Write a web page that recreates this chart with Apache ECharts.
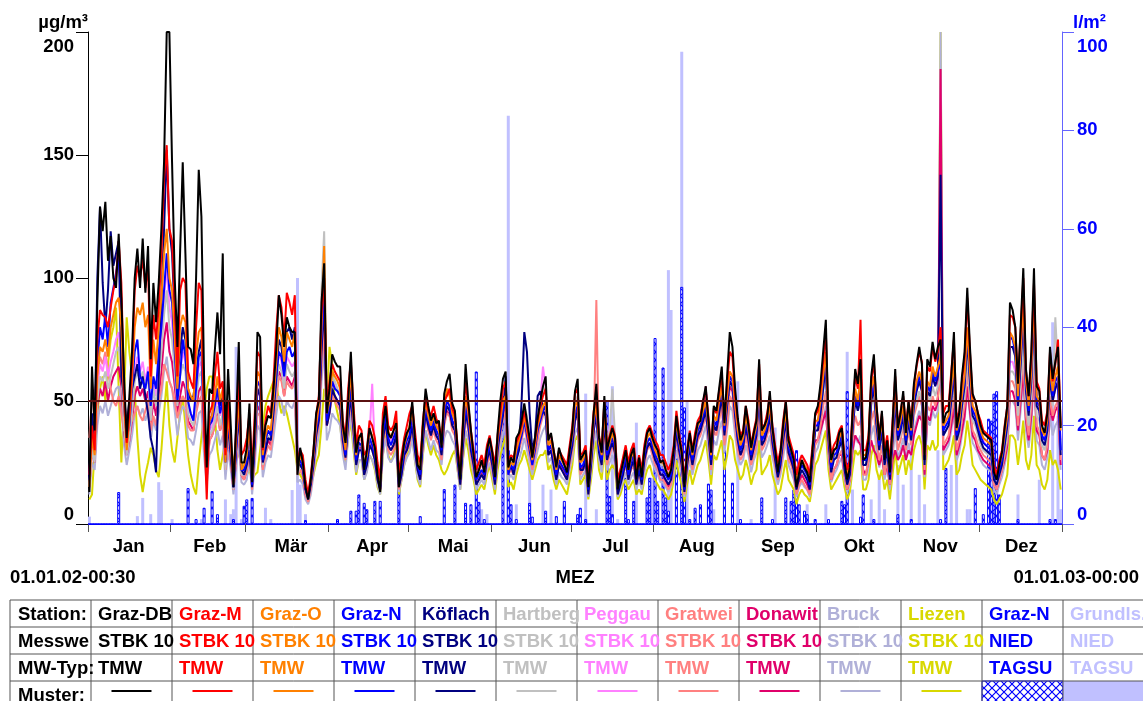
<!DOCTYPE html>
<html><head><meta charset="utf-8">
<script src="https://cdn.jsdelivr.net/npm/echarts@6/dist/echarts.min.js"></script>
<style>html,body{margin:0;padding:0;background:#fff}#c{width:1143px;height:701px}</style>
</head><body><div id="c"></div>
<script>
// ---------- DATA ----------
const monthNames = ['Jan','Feb','Mär','Apr','Mai','Jun','Jul','Aug','Sep','Okt','Nov','Dez'];
const monthStartDays = [0,31,59,90,120,151,181,212,243,273,304,334];
const leftAxisMax = 200, leftAxisStep = 50;
const rightAxisMax = 100, rightAxisStep = 20;
const limitValue = 50;

const grazDB = [
13,64,38,90,129,119,131,107,117,100,96,118,92,60,35,52,70,100,112,96,116,94,113,67,98,82,98,120,147,200,200,
147,100,72,110,147,110,72,71,65,100,144,125,60,23,55,53,70,86,69,110,31,63,40,15,40,74,25,25,
31,49,17,40,78,76,31,40,44,43,55,70,93,85,72,84,80,78,78,20,31,25,15,10,18,30,45,50,90,106,45,
55,69,66,64,64,40,33,50,70,45,29,35,37,22,30,39,35,31,20,13,40,48,37,35,38,41,15,25,33,37,
39,50,35,24,22,40,55,48,42,45,41,42,31,53,58,61,49,46,30,18,40,65,50,38,28,19,22,26,21,30,35,
29,19,37,50,59,62,23,27,25,35,37,42,49,42,35,27,35,43,50,56,60,34,37,30,23,31,27,24,21,30,
38,54,59,26,28,30,15,30,45,57,35,29,52,30,35,39,35,14,20,25,30,22,28,31,18,27,19,30,37,39,35,
32,30,25,26,22,19,22,30,44,35,29,15,29,37,29,35,41,42,50,56,42,29,48,46,55,64,41,60,78,72,55,
43,34,37,48,40,31,37,42,67,38,40,43,54,39,30,21,29,40,50,34,30,26,15,21,26,23,21,17,30,45,
48,57,70,83,40,26,30,31,37,39,25,18,23,45,63,57,67,26,27,34,60,69,48,34,46,26,34,21,40,63,39,
45,54,37,50,39,57,65,72,65,26,67,64,74,67,72,75,41,45,46,60,78,39,45,60,70,96,72,53,50,45,
40,37,36,35,34,21,18,24,29,39,48,90,87,80,57,80,104,63,52,70,104,56,54,40,37,45,72,59,66,72,39];

const grazM = [
20,40,30,75,87,85,84,80,88,95,100,115,98,55,33,45,65,95,105,100,108,96,105,60,85,75,88,110,140,154,120,
115,90,60,95,100,98,62,58,55,80,98,95,40,10,45,48,60,70,55,58,28,50,35,18,38,60,28,30,
35,45,22,45,70,68,30,42,48,45,58,78,93,88,75,94,90,85,93,25,30,28,18,12,20,30,44,52,85,100,48,
58,65,62,60,58,42,35,55,66,48,32,40,38,28,30,42,40,35,25,18,45,52,40,38,40,46,20,28,35,40,
45,48,38,28,25,42,52,46,44,48,43,40,35,50,52,55,47,44,32,22,42,58,48,38,30,22,25,28,24,32,36,
30,24,36,45,55,58,26,28,27,33,36,40,46,40,33,28,34,42,48,52,55,36,36,30,24,30,28,26,24,32,
40,53,55,28,29,32,18,32,46,52,36,30,50,32,36,40,36,18,22,27,32,25,30,33,22,28,22,32,38,40,37,
34,32,28,28,25,22,25,32,46,37,30,18,30,38,30,37,42,44,50,54,44,30,47,45,54,60,42,57,70,68,52,
42,36,38,48,42,32,38,43,65,40,40,45,52,40,32,25,30,42,50,36,32,28,20,25,28,26,24,20,32,44,
46,55,66,78,42,28,32,34,38,40,28,22,26,46,60,55,83,30,30,36,58,66,48,36,45,30,36,25,42,60,40,
46,52,40,50,42,56,64,70,66,30,64,62,72,66,70,80,45,48,48,62,75,42,46,58,68,92,70,52,50,45,
42,38,37,36,35,24,20,26,30,40,48,85,84,80,58,78,100,62,52,68,98,58,55,42,40,46,70,58,65,75,40];

const grazO = [
15,35,28,60,72,70,75,68,80,85,90,92,80,50,30,42,58,80,88,85,90,80,85,55,75,65,80,92,110,120,100,
95,75,55,80,85,82,55,52,50,68,78,80,42,22,42,44,52,60,50,55,25,45,32,16,34,52,22,24,
28,40,18,38,62,60,28,36,40,38,50,65,80,76,66,78,75,72,78,22,28,25,15,12,18,28,40,48,80,113,45,
50,62,60,58,55,38,30,48,62,42,28,36,35,24,28,38,36,30,22,16,40,50,38,35,38,42,18,25,32,36,
40,46,35,26,22,40,50,44,40,44,40,38,32,48,55,52,45,42,30,20,38,52,45,35,28,20,22,25,22,30,34,
28,20,34,42,50,52,22,25,24,30,34,38,44,38,32,26,32,40,44,48,50,32,34,28,22,28,26,24,22,30,
36,48,50,25,26,30,16,28,42,48,33,28,46,30,33,37,33,15,20,25,30,22,27,30,20,26,20,30,35,37,34,
30,28,25,25,22,20,22,30,42,34,28,16,28,35,28,34,40,42,46,50,40,28,44,42,50,56,40,52,62,60,48,
38,32,35,44,38,30,35,40,58,36,38,42,48,37,30,23,28,38,46,33,30,26,18,23,26,24,22,18,30,42,
42,50,60,70,38,25,30,31,35,38,26,20,24,42,55,50,60,28,28,34,55,60,44,34,42,28,34,22,38,55,38,
42,48,36,46,38,52,58,62,58,28,58,56,64,60,64,68,40,42,44,55,66,38,42,52,60,80,62,48,46,42,
38,35,34,33,32,22,20,24,28,36,44,78,76,72,52,70,90,58,48,62,92,52,50,38,36,42,64,54,60,64,38];

const grazN = [
18,38,30,65,80,75,85,72,90,96,102,110,90,48,35,40,55,70,75,60,58,55,62,48,60,55,70,80,95,110,95,
90,70,50,60,75,68,50,45,42,55,68,70,38,22,40,42,48,55,45,50,25,42,30,15,30,48,22,22,
26,38,16,35,58,56,26,34,38,36,48,60,70,68,60,70,72,68,70,25,26,23,14,12,17,26,38,44,75,95,42,
48,58,55,54,52,36,28,44,56,40,26,33,32,22,26,35,32,28,20,15,36,45,35,32,35,38,16,22,30,34,
36,44,32,24,20,36,48,42,38,42,38,36,30,45,50,48,42,40,28,18,35,48,42,32,26,18,20,22,20,28,32,
26,18,32,40,46,50,20,24,22,28,32,36,42,36,30,24,30,38,42,46,48,30,32,26,20,26,24,22,20,28,
34,45,48,23,24,28,14,26,40,46,31,26,44,28,32,35,31,14,18,22,28,20,25,28,18,24,18,28,33,35,32,
28,26,22,22,20,18,20,28,40,32,26,14,26,33,26,32,38,40,44,48,38,26,42,40,48,54,38,50,60,58,46,
36,30,33,42,36,28,33,38,56,34,36,40,46,35,28,21,26,36,44,31,28,24,16,21,24,22,20,16,28,40,
40,48,58,68,36,23,28,29,33,36,24,18,22,40,52,48,55,26,26,32,52,58,42,32,40,26,32,20,36,52,36,
40,46,34,44,36,50,56,60,56,26,56,54,62,58,62,66,38,40,42,52,64,36,40,50,58,78,60,46,44,40,
36,33,32,31,30,20,18,22,26,34,42,76,75,70,50,68,88,56,46,60,90,50,48,36,34,40,62,52,58,60,30];

const koeflach = [
20,45,35,100,129,98,80,95,119,105,110,115,60,52,40,50,55,60,65,55,60,52,45,35,30,21,60,90,120,152,120,
110,85,60,70,80,75,55,50,52,60,70,75,45,20,42,44,50,55,48,52,26,40,28,15,30,45,22,20,
24,30,15,32,55,52,25,30,35,34,45,58,75,72,62,78,80,75,80,25,24,22,14,10,16,24,36,42,70,90,40,
45,55,52,50,48,34,27,42,52,38,24,30,30,20,24,32,30,26,18,14,34,42,32,30,32,36,15,20,28,30,
34,40,30,22,18,34,45,40,36,40,36,34,28,42,48,46,40,38,26,16,32,45,40,30,24,16,18,20,18,26,30,
24,16,30,38,44,60,22,24,20,26,30,50,78,70,45,30,35,52,54,46,44,28,30,24,18,24,22,20,18,26,
32,42,46,22,22,26,12,24,38,44,29,24,42,26,30,33,29,12,16,20,26,18,23,26,16,22,16,26,31,33,30,
26,24,20,20,18,16,18,26,38,30,24,13,24,31,24,30,36,38,42,46,36,24,40,38,45,52,36,48,58,56,44,
34,28,31,40,34,26,31,36,54,32,34,38,44,33,26,19,24,34,42,29,26,22,14,19,22,20,18,14,26,38,
38,45,55,65,34,21,26,27,31,34,22,16,20,38,50,46,52,24,24,30,50,55,40,30,38,24,30,18,34,50,34,
38,44,32,42,34,48,54,58,54,24,54,52,60,56,60,142,36,38,40,50,62,34,38,48,56,75,58,44,42,38,
34,31,30,29,28,18,16,20,24,32,40,72,72,68,48,65,85,54,44,58,86,48,46,34,32,38,60,50,55,58,28];

const hartberg = [
15,30,25,50,60,58,62,55,60,65,70,72,62,40,28,35,45,58,62,58,62,55,60,42,55,48,58,70,85,95,80,
75,62,48,60,65,62,45,42,40,50,60,62,35,20,36,38,42,48,40,45,22,38,28,14,28,42,20,20,
24,34,16,32,50,50,24,32,36,34,44,55,65,62,55,65,62,60,62,20,24,22,14,10,16,26,40,50,95,119,50,
52,60,58,55,52,36,28,44,58,40,26,32,32,22,26,34,32,28,20,15,36,44,34,32,34,38,16,22,30,34,
36,44,32,24,20,36,48,42,38,42,38,36,30,45,48,46,42,40,28,18,35,48,42,32,26,18,20,22,20,28,32,
26,18,32,40,46,50,22,26,24,30,34,40,48,44,34,26,32,40,46,56,55,34,34,28,22,28,26,24,22,30,
38,50,52,26,28,30,18,30,42,50,35,30,50,34,38,55,36,18,22,26,30,22,28,30,20,26,20,30,36,38,35,
30,28,24,24,22,20,22,28,40,34,28,16,26,34,26,32,38,40,44,48,38,26,42,40,48,54,38,48,58,56,46,
36,30,33,42,36,28,33,38,52,34,36,40,44,35,28,22,26,36,42,32,28,24,16,22,24,22,20,16,28,38,
40,46,54,60,34,22,27,28,32,34,22,17,21,38,50,46,50,24,24,30,48,52,38,30,36,24,30,20,34,48,34,
36,42,32,40,34,46,50,54,50,24,52,50,56,52,56,60,36,38,40,48,58,34,36,46,52,68,54,42,40,36,
32,30,29,28,27,18,16,20,24,30,36,62,62,60,44,58,72,48,40,52,74,44,42,32,30,36,58,48,84,62,30];

const peggau = [
15,32,26,55,65,62,68,60,66,70,75,78,66,42,30,38,50,62,68,62,66,58,64,45,58,52,62,75,92,105,88,
82,66,50,62,70,66,48,45,42,54,64,66,38,20,38,40,45,52,44,48,24,40,30,15,30,44,20,22,
26,36,17,34,54,52,26,34,38,36,46,58,70,66,58,68,66,64,66,22,26,24,14,11,17,27,40,46,78,98,44,
50,58,56,54,52,36,30,46,58,42,28,34,34,24,28,36,57,30,22,16,38,46,36,34,36,40,18,24,32,36,
38,46,34,26,22,38,50,44,40,44,40,38,32,47,50,48,44,42,30,20,36,50,44,34,27,20,22,24,22,30,34,
28,20,34,42,48,52,24,27,25,31,35,40,46,40,33,27,33,41,50,64,55,33,35,29,23,29,27,25,23,31,
37,48,50,27,28,31,18,31,44,50,35,30,48,32,40,38,34,17,22,26,31,23,28,31,21,27,21,31,36,40,36,
31,29,26,26,23,21,23,31,42,35,29,17,28,35,28,34,40,42,50,55,42,28,44,42,50,56,40,50,60,58,48,
38,32,35,44,38,30,35,40,56,36,38,42,46,37,30,24,28,38,44,34,30,26,20,26,28,26,24,22,30,40,
42,48,56,64,38,26,30,30,34,36,26,20,24,40,52,48,50,28,28,34,52,56,40,34,40,28,34,24,38,52,38,
40,46,36,44,38,50,54,58,54,28,56,54,60,56,60,64,40,42,44,52,62,38,40,48,56,70,58,46,44,40,
36,34,32,31,30,22,20,24,28,34,40,66,66,62,48,62,78,52,44,56,80,48,46,36,34,40,60,50,55,56,34];

const gratwein = [
35,50,54,60,68,65,70,62,55,50,48,52,45,38,37,40,42,45,48,44,42,46,50,38,44,40,50,55,65,62,58,
55,50,43,48,52,50,40,38,38,45,50,52,34,20,34,36,40,44,38,42,22,36,26,14,26,38,20,18,
22,30,14,28,45,44,22,28,32,30,40,50,60,58,52,58,56,55,58,20,22,20,12,9,14,22,34,40,62,80,40,
45,52,50,48,46,32,26,40,50,36,24,30,30,20,24,32,30,26,18,14,32,40,30,28,30,34,14,20,26,30,
32,40,30,22,18,32,44,38,34,38,34,32,26,40,45,44,38,36,24,16,30,44,38,28,22,16,18,20,18,24,28,
22,16,28,36,42,46,20,22,20,26,30,34,40,34,28,22,28,34,40,44,46,28,30,24,18,24,22,20,18,24,
30,42,44,20,22,24,12,24,36,91,30,24,40,24,28,32,28,12,16,20,24,18,22,24,16,20,16,24,30,32,28,
24,22,18,18,16,14,16,24,36,28,22,12,22,30,22,28,34,36,40,44,34,22,38,36,42,48,32,40,52,50,40,
30,26,28,36,30,24,28,32,48,30,32,36,40,30,24,18,22,30,38,26,24,20,12,16,18,16,14,12,22,32,
34,40,48,54,30,18,22,24,28,30,20,14,18,34,44,40,42,20,20,26,42,46,34,26,32,20,26,16,30,44,30,
34,40,30,38,32,44,48,52,48,22,48,46,52,48,52,58,32,34,36,44,52,30,34,42,48,62,50,38,36,32,
30,28,27,26,25,16,14,18,22,28,34,58,58,55,40,54,68,44,36,48,70,40,38,28,26,32,52,44,48,50,26];

const donawitz = [
15,30,25,48,55,52,58,50,56,60,62,64,56,38,28,34,42,52,56,52,55,50,54,40,50,44,52,62,75,82,70,
66,56,44,52,58,55,42,40,38,46,54,56,34,18,34,36,40,46,38,42,22,36,26,14,26,40,20,18,
22,32,15,30,48,46,23,30,34,32,42,52,62,60,52,60,58,56,60,20,22,20,12,10,15,24,36,42,70,88,40,
46,54,52,50,48,33,27,42,54,38,25,31,31,21,25,33,31,27,19,14,34,42,32,30,32,36,15,21,28,32,
34,42,31,23,19,34,46,40,36,40,36,34,28,42,46,44,40,38,26,17,32,46,40,30,24,17,19,21,19,26,30,
24,17,30,38,44,48,21,23,21,27,31,36,42,36,30,23,29,36,42,46,48,30,32,25,19,25,23,21,19,26,
32,44,46,22,23,26,13,25,38,46,31,25,42,26,30,33,30,13,17,21,25,19,23,25,17,22,17,25,31,33,30,
26,24,20,20,17,15,17,25,36,30,24,13,24,31,24,29,35,37,42,56,36,24,40,38,44,50,34,44,56,54,42,
32,28,30,38,32,25,30,34,50,32,34,38,42,32,25,19,23,32,40,28,25,21,13,17,20,18,16,13,24,34,
34,38,42,46,30,18,22,24,28,28,20,14,18,30,36,34,32,22,20,26,34,30,28,24,28,20,24,16,26,30,26,
28,32,26,30,28,36,40,44,42,20,44,42,48,46,50,185,30,32,34,40,48,28,32,38,44,56,46,36,34,30,
28,26,25,24,23,16,14,18,22,26,32,54,54,50,38,50,62,42,34,44,64,38,36,28,26,30,48,42,46,48,24];

const bruck = [
12,25,22,40,48,45,50,44,48,52,55,56,48,32,24,30,36,45,48,44,47,42,46,34,42,38,45,52,62,68,58,
55,46,36,44,48,46,35,34,32,38,45,46,28,16,28,30,34,38,32,36,18,30,22,12,22,34,17,16,
18,26,12,24,40,38,19,25,28,27,35,44,52,50,44,50,48,47,50,17,18,16,10,8,12,20,30,36,58,72,34,
38,45,43,42,40,28,22,35,45,32,21,26,26,18,21,28,26,23,16,12,28,35,27,25,27,30,13,18,24,27,
29,35,26,19,16,29,38,34,30,34,30,29,24,35,38,37,34,32,22,14,27,38,34,26,20,14,16,18,16,22,25,
20,14,25,32,37,40,18,20,18,23,26,30,35,30,25,20,25,30,35,38,40,25,27,21,16,21,19,18,16,22,
27,37,39,18,20,22,11,21,32,38,26,21,35,22,25,28,25,11,14,18,21,16,19,21,14,18,14,21,26,28,25,
22,20,17,17,15,13,15,21,30,25,20,11,20,26,20,25,30,32,36,40,30,20,34,32,38,42,29,38,48,46,36,
28,24,26,32,28,21,26,29,42,27,29,32,36,27,22,16,20,27,34,24,21,18,11,15,17,15,14,11,20,29,
31,36,42,48,27,17,20,22,25,27,18,13,16,28,36,33,36,18,18,23,36,40,30,23,28,18,23,14,27,38,27,
30,35,26,33,28,38,42,46,42,19,42,40,46,43,46,200,28,30,32,38,46,26,29,36,42,55,44,33,31,29,
26,24,23,22,21,14,12,16,19,24,30,50,50,48,34,46,58,38,31,40,60,34,32,24,22,27,44,36,40,42,22];

const liezen = [
10,12,30,45,55,60,50,65,75,80,88,55,25,50,84,70,60,55,35,20,13,20,25,31,28,22,19,30,45,58,40,
30,25,35,45,52,40,28,20,15,12,25,35,45,55,60,60,45,30,22,28,35,38,32,25,30,28,25,22,
20,22,18,20,21,30,40,48,52,55,58,58,50,45,48,45,40,35,30,22,20,18,15,12,15,20,25,28,40,55,50,
72,65,50,45,40,30,25,35,42,30,20,26,26,18,22,28,26,22,15,12,28,36,28,25,28,32,12,18,24,28,
30,36,26,18,15,28,38,32,28,32,28,26,22,20,22,25,28,30,22,14,26,35,30,22,18,12,14,16,14,20,24,
18,12,22,28,32,36,15,17,14,20,24,26,30,26,22,18,22,26,28,28,30,22,24,18,14,18,16,14,12,18,
24,34,36,16,18,20,10,18,28,34,22,18,30,18,22,24,22,10,12,16,18,14,16,18,12,14,12,18,22,24,20,
18,16,14,14,12,10,12,18,26,20,16,9,16,22,16,20,24,26,30,34,26,16,28,26,30,34,22,28,36,34,26,
22,18,20,26,22,16,20,22,34,20,22,24,28,20,16,12,14,20,26,18,16,14,8,12,14,12,11,9,16,24,
26,30,34,38,22,14,16,18,20,22,15,10,13,22,30,28,30,14,14,18,28,32,22,18,22,14,18,10,20,30,20,
24,28,20,26,22,30,34,36,32,14,32,30,34,30,32,200,22,24,26,30,36,20,22,28,32,42,34,24,22,20,
18,17,16,15,14,10,8,10,12,16,20,36,36,34,24,32,42,26,22,28,44,24,22,16,14,18,30,24,26,22,14];

// precipitation (l/m²), [dayIndex, value] — all other days 0
const niedGrazN = [[11,6.5],[37,7.3],[40,1],[43,3.3],[46,6.7],[48,2],[54,1],[58,3.7],[59,5],[61,5.3],[81,0.8],
[93,1],[98,2.7],[100,2.7],[101,6],[103,4.3],[104,3],[107,4.7],[109,4.7],[116,10],[124,1.6],[133,7.1],[137,8],
[141,4.3],[143,4],[145,31],[146,4.5],[148,1],[155,26],[157,15],[158,4],[160,1],[165,4.3],[166,1.5],[171,2.7],
[175,1.6],[178,4.7],[183,2],[184,3.3],[186,1],[194,25],[195,5.7],[196,2],[201,9.4],[202,1],[204,4.7],[209,5.4],
[210,9.4],[212,37.8],[213,4.7],[215,31.8],[216,5.4],[217,2.7],[220,17.6],[222,48.2],[223,23.7],[225,1],[227,3.3],
[229,4],[232,8.2],[233,7],[238,15],[241,8.4],[244,1],[252,5.4],[256,1],[261,5.4],[263,4.7],[264,7],[265,15],
[266,4],[268,2.7],[269,2],[272,1],[277,1],[282,4.7],[283,4],[284,27],[289,1.5],[290,6],[294,1],[303,2],[308,1],
[319,1],[321,11.4],[332,7.3],[335,2],[337,21.4],[338,21],[339,26.5],[340,27],[341,6],[348,1],[360,1],[362,1]];

const niedGrundlsee = [[0,1.5],[18,1.6],[20,5.3],[23,2],[26,8.5],[27,6.9],[31,1],[42,1],[51,5],[53,2],[54,3],[55,36],
[57,1],[66,3.3],[68,1],[76,6.9],[78,50],[79,8],[81,2],[145,2.5],[147,3],[149,2],[157,83],[158,4],[160,4],[165,15.7],
[170,8],[173,7],[178,4],[186,26.5],[190,3],[196,28],[198,1],[205,20.6],[211,9.4],[217,51.6],[218,43.5],[222,96],
[224,25],[234,3],[243,29],[248,1],[257,19.6],[264,6],[269,4],[276,4],[284,35],[286,7],[293,5],[296,10],[298,3],
[303,12],[305,8],[308,14],[311,10],[313,4],[318,15],[323,12],[325,14],[329,3],[330,3],[340,1],[348,6],[356,9],
[361,41],[363,22],[364,3]];

const stationNames = ['Graz-DB','Graz-M','Graz-O','Graz-N','Köflach','Hartberg','Peggau','Gratwei','Donawit','Bruck','Liezen','Graz-N','Grundls.'];
const measNames = ['STBK 10','STBK 10','STBK 10','STBK 10','STBK 10','STBK 10','STBK 10','STBK 10','STBK 10','STBK 10','STBK 10','NIED','NIED'];
const typeNames = ['TMW','TMW','TMW','TMW','TMW','TMW','TMW','TMW','TMW','TMW','TMW','TAGSU','TAGSU'];
const rowHeads = ['Station:','Messwe','MW-Typ:','Muster:'];

// ---------- STYLE ----------
const colors = ['#000000','#ff0000','#ff8000','#0000ff','#000080','#c0c0c0','#ff80ff','#ff8080','#e0006a','#b0b0d8','#d8d800','#0000ff','#c0c0ff'];
const lineSeriesData = [grazDB,grazM,grazO,grazN,koeflach,hartberg,peggau,gratwein,donawitz,bruck,liezen];
const FONT = '"Liberation Sans", Arial, Helvetica, sans-serif';
const FS = 18.5;

const nDays = 365;
const dayCats = [];
{ const d0 = Date.UTC(2002,0,1); for (let i=0;i<nDays;i++){ const d=new Date(d0+i*86400000); dayCats.push(d.toISOString().slice(0,10)); } }
function expand(pairs){ const a=new Array(nDays).fill(0); pairs.forEach(p=>{a[p[0]]=p[1];}); return a; }

function hatchCanvas(){
  const c=document.createElement('canvas'); c.width=8; c.height=8;
  const g=c.getContext('2d'); g.fillStyle='#ffffff'; g.fillRect(0,0,8,8);
  g.strokeStyle='#0000ff'; g.lineWidth=1.2; g.beginPath();
  g.moveTo(0,0); g.lineTo(8,8); g.moveTo(8,0); g.lineTo(0,8); g.stroke();
  return c;
}
const hatch = {image: hatchCanvas(), repeat:'repeat'};
const monthStartSet = new Set(monthStartDays);

const series = [];
series.push({type:'bar', name:'Grundls.', xAxisIndex:0, yAxisIndex:1, data:expand(niedGrundlsee), barWidth:3, barGap:'-100%',
  itemStyle:{color:colors[12]}, z:1, silent:true});
series.push({type:'bar', name:'Graz-N NIED', xAxisIndex:0, yAxisIndex:1, data:expand(niedGrazN), barWidth:3, barGap:'-100%',
  itemStyle:{color:hatch, borderColor:'#0000ff', borderWidth:1}, z:1, silent:true});
for (let k=10;k>=0;k--){
  const s = {type:'line', name:stationNames[k], xAxisIndex:0, yAxisIndex:0, data:lineSeriesData[k], symbol:'none', showSymbol:false,
    lineStyle:{width:2, color:colors[k]}, itemStyle:{color:colors[k]}, z:3, silent:true};
  if (k===10) s.markLine = {silent:true, symbol:'none', label:{show:false}, lineStyle:{color:'#5a1010', width:2, type:'solid'}, data:[{yAxis:limitValue}]};
  series.push(s);
}

// ---------- TABLE (graphic) ----------
const tX0 = 10, tCol0W = 81, tColW = 81, tY0 = 600, tRowH = 27;
const g = [];
const txt = (t,x,y,color,align)=>({type:'text', silent:true, style:{text:t, x:x, y:y, fill:color, align:align||'left', verticalAlign:'middle',
  font:'bold '+FS+'px '+FONT}});
const colLeft = i => tX0 + tCol0W + i*tColW;
g.push({type:'rect', silent:true, shape:{x:colLeft(11), y:tY0+3*tRowH, width:tColW, height:tRowH}, style:{fill:hatch, stroke:'#0000ff', lineWidth:1}});
g.push({type:'rect', silent:true, shape:{x:colLeft(12), y:tY0+3*tRowH, width:tColW, height:tRowH}, style:{fill:colors[12]}});
for (let r=0;r<4;r++) g.push({type:'line', silent:true, shape:{x1:tX0, y1:tY0+r*tRowH, x2:1143, y2:tY0+r*tRowH}, style:{stroke:'#555', lineWidth:1}});
g.push({type:'line', silent:true, shape:{x1:tX0, y1:tY0, x2:tX0, y2:701}, style:{stroke:'#555', lineWidth:1}});
for (let i=0;i<=13;i++) g.push({type:'line', silent:true, shape:{x1:colLeft(i), y1:tY0, x2:colLeft(i), y2:701}, style:{stroke:'#555', lineWidth:1}});
rowHeads.forEach((h,r)=>g.push(txt(h, tX0+8, tY0+r*tRowH+tRowH/2+1, '#000')));
for (let i=0;i<13;i++){
  const x = colLeft(i)+7;
  g.push(txt(stationNames[i], x, tY0+tRowH/2+1, colors[i]));
  g.push(txt(measNames[i], x, tY0+tRowH*1.5+1, colors[i]));
  g.push(txt(typeNames[i], x, tY0+tRowH*2.5+1, colors[i]));
  if (i<11){
    const cx = colLeft(i)+tColW/2, cy = tY0+tRowH*3+10;
    g.push({type:'line', silent:true, shape:{x1:cx-20, y1:cy, x2:cx+20, y2:cy}, style:{stroke:colors[i], lineWidth:2}});
  }
}
g.push(txt('01.01.02-00:30', 10, 578, '#000'));
g.push(txt('MEZ', 575, 578, '#000', 'center'));
g.push(txt('01.01.03-00:00', 1139, 578, '#000', 'right'));

const labelFont = {fontSize:FS, fontWeight:'bold', fontFamily:FONT};
function yLabel(color, maxV){
  return {margin:14, color:color, ...labelFont, verticalAlignMaxLabel:'top', verticalAlignMinLabel:'bottom',
    formatter:(v)=> v===maxV ? '{t|'+v+'}' : String(v),
    rich:{t:{...labelFont, color:color, padding:[5,0,0,0]}}};
}

const chart = echarts.init(document.getElementById('c'), null, {renderer:'canvas'});
chart.setOption({
  animation:false,
  backgroundColor:'#ffffff',
  grid:{left:88, right:81, top:32, bottom:177, containLabel:false},
  xAxis:[
    {type:'category', data:dayCats, boundaryGap:true, position:'bottom',
     axisLine:{show:true, lineStyle:{color:'#0000ff', width:1}},
     axisTick:{show:true, interval:(i)=>monthStartSet.has(i), length:8, lineStyle:{color:'#555', width:1}},
     axisLabel:{show:false}, splitLine:{show:false}},
    {type:'category', data:monthNames, boundaryGap:true, position:'bottom',
     axisLine:{show:false}, axisTick:{show:false}, splitLine:{show:false},
     axisLabel:{show:true, interval:0, margin:13, color:'#000', ...labelFont}}
  ],
  yAxis:[
    {type:'value', min:0, max:leftAxisMax, interval:leftAxisStep, position:'left',
     name:'µg/m³', nameLocation:'end', nameGap:0,
     nameTextStyle:{color:'#000', ...labelFont, align:'right', verticalAlign:'bottom'},
     axisLine:{show:true, lineStyle:{color:'#000', width:1}},
     axisTick:{show:true, length:12, lineStyle:{color:'#000'}},
     axisLabel:yLabel('#000', leftAxisMax),
     splitLine:{show:false}},
    {type:'value', min:0, max:rightAxisMax, interval:rightAxisStep, position:'right',
     name:'l/m²', nameLocation:'end', nameGap:0,
     nameTextStyle:{color:'#0000ff', ...labelFont, align:'left', verticalAlign:'bottom', padding:[0,0,0,11]},
     axisLine:{show:true, lineStyle:{color:'#6464ff', width:1}},
     axisTick:{show:true, length:12, lineStyle:{color:'#6464ff'}},
     axisLabel:Object.assign(yLabel('#0000ff', rightAxisMax), {margin:15}),
     splitLine:{show:false}}
  ],
  series: series,
  graphic: g
});
</script></body></html>
